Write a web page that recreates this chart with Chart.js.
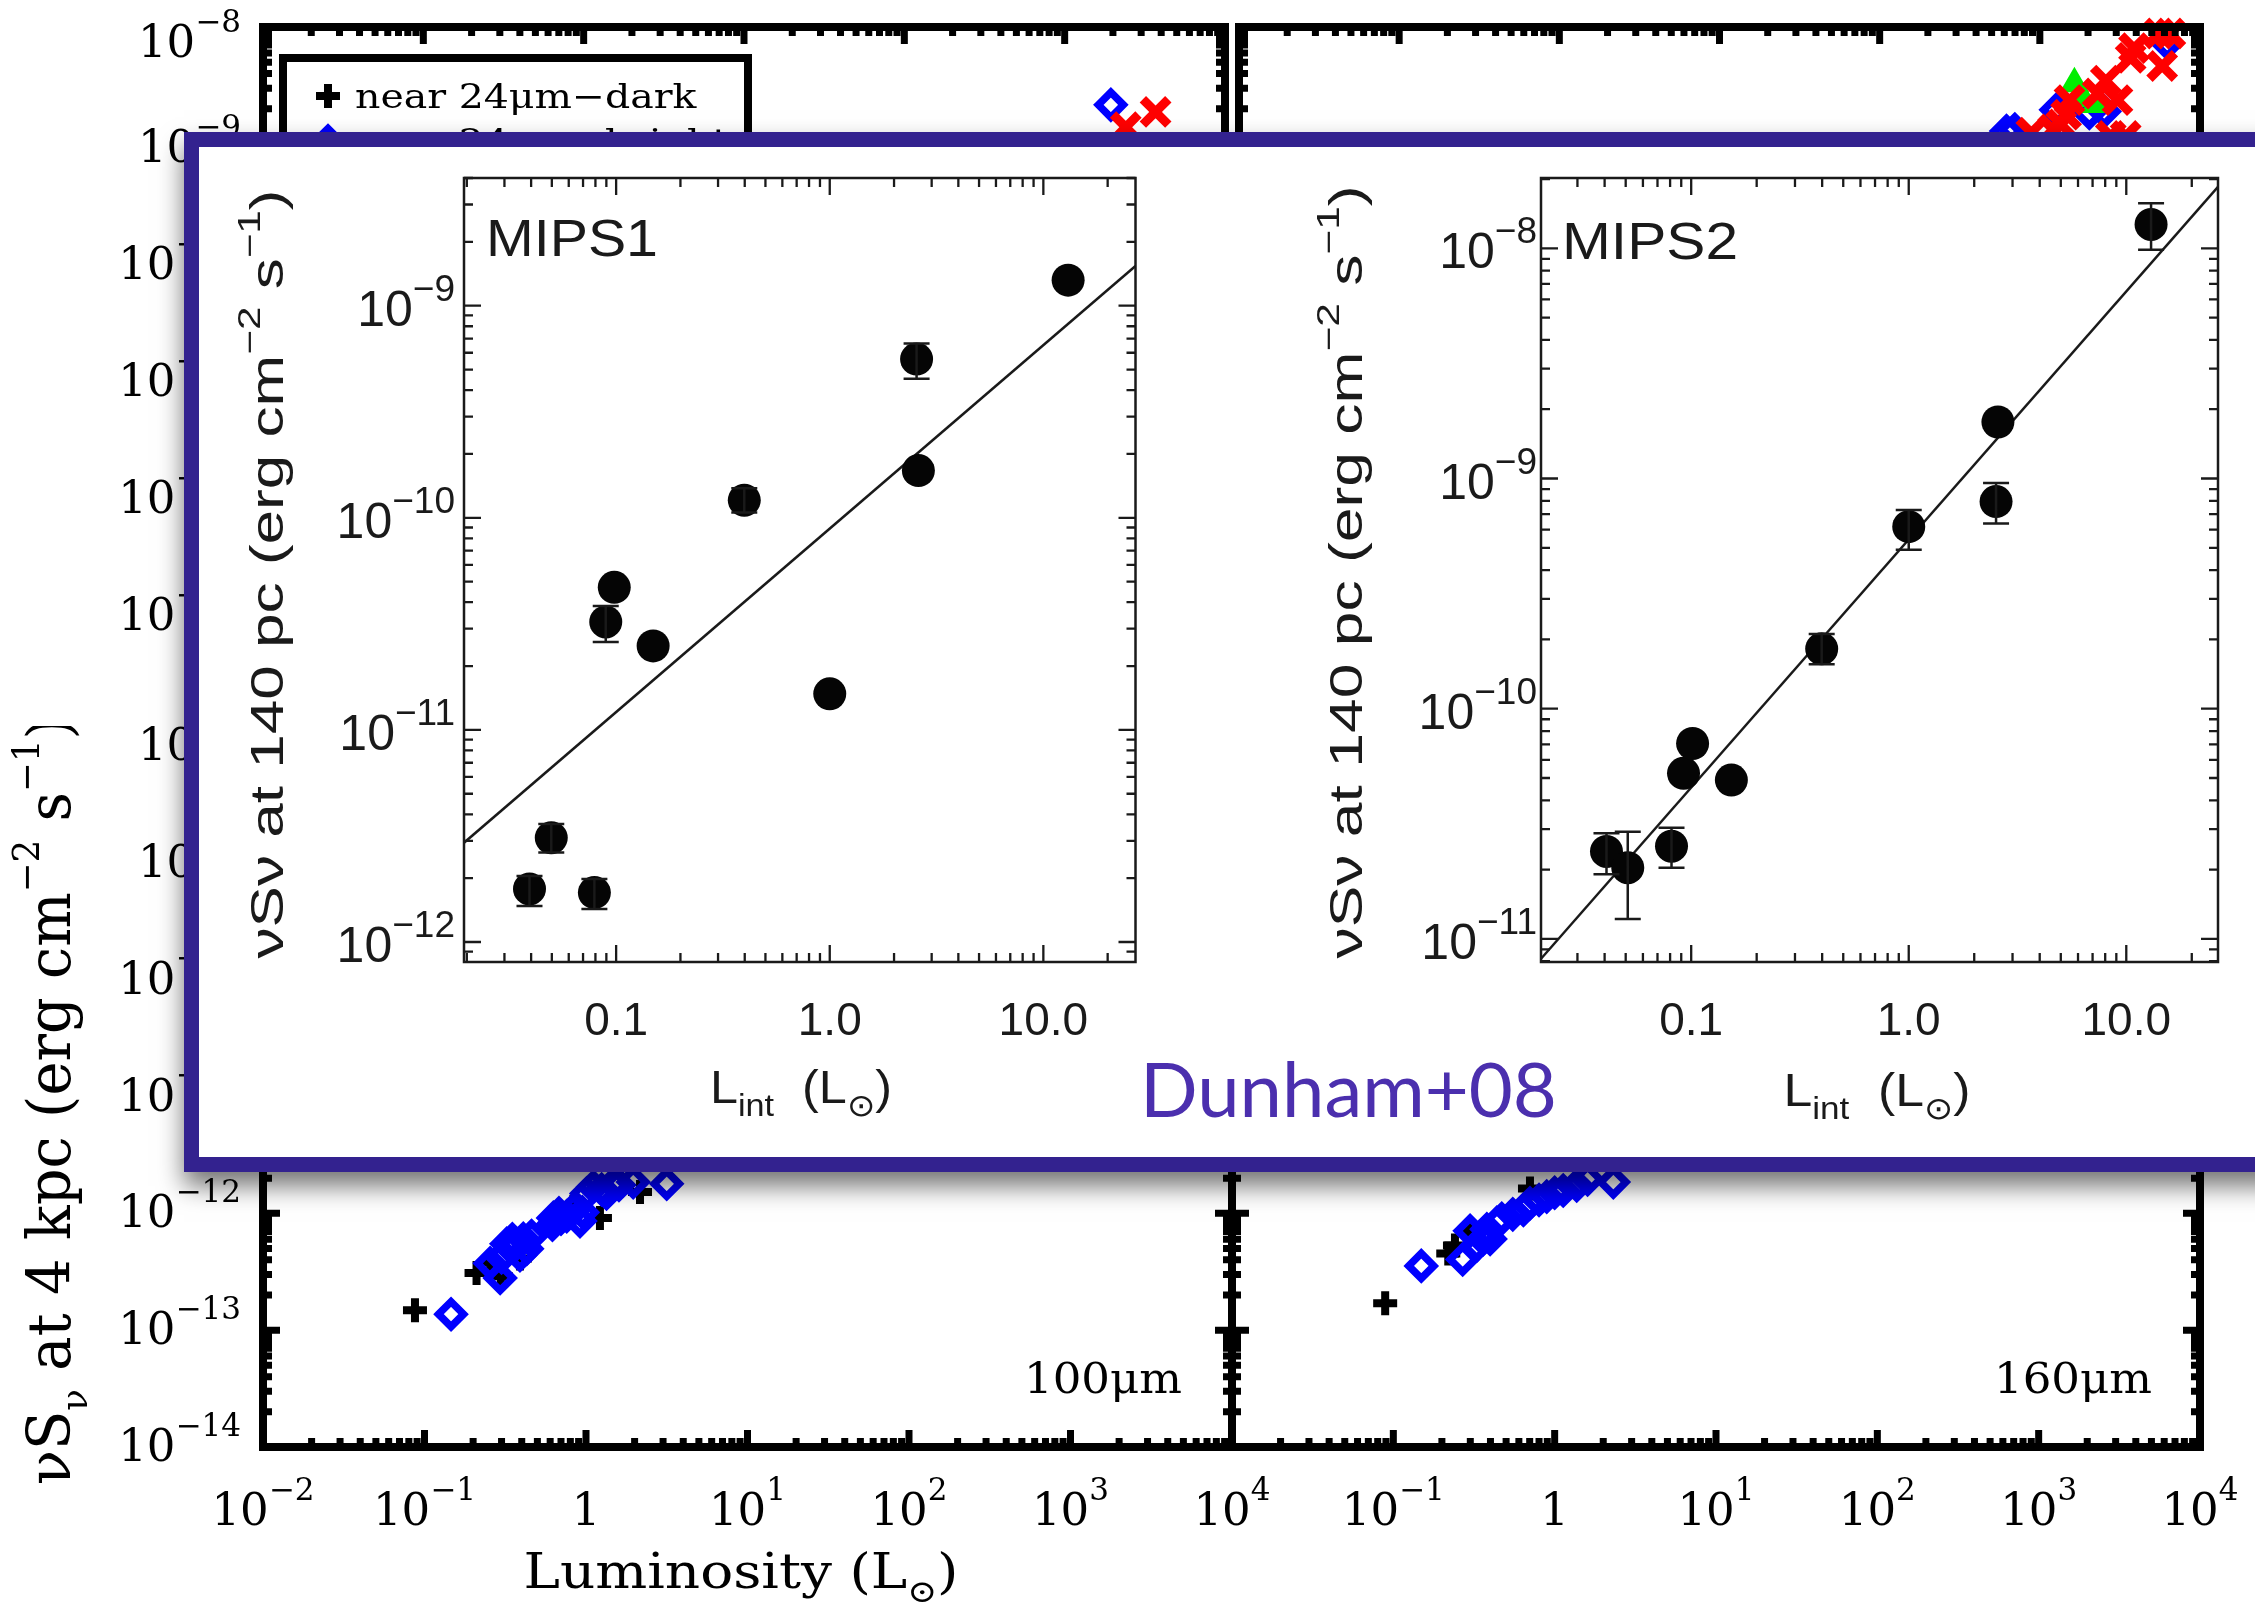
<!DOCTYPE html>
<html>
<head>
<meta charset="utf-8">
<script src="https://cdn.jsdelivr.net/npm/chart.js@4.4.1/dist/chart.umd.min.js"></script>
<style>
  html, body { margin: 0; padding: 0; background: #fff; }
  body { position: relative; width: 2255px; height: 1604px; overflow: hidden; }
  canvas { position: absolute; }
  canvas.soft { filter: blur(0.5px); }
  #inset {
    position: absolute; left: 184px; top: 132px; width: 2200px; height: 1040px;
    box-sizing: border-box; border: 15px solid #33228f; background: #fff; z-index: 5;
    box-shadow: 0 14px 24px rgba(0, 0, 0, 0.55);
  }
  #dunham {
    position: absolute; left: 1140px; top: 1050px; z-index: 7;
    font: 76px Lato, "Open Sans", sans-serif; line-height: 1; color: #4b2fae;
  }
</style>
</head>
<body>
<div id="inset"></div>
<div id="dunham">Dunham+08</div>
<script>
// Background figure: nuS_nu at 4 kpc vs luminosity, four panels (only 100um / 160um labelled)
const bgXTicks = [1e-2, 1e-1, 1, 1e1, 1e2, 1e3, 1e4];
const bgYTicks = [1e-14, 1e-13, 1e-12, 1e-11, 1e-10, 1e-9, 1e-8];
const legendLabels = ['near 24\u03bcm\u2212dark', 'near 24\u03bcm\u2212bright'];

// top-left panel
const tlBrightL = [1941];
const tlBrightS = [2.16e-9];
const tlRedL = [3690, 2404];
const tlRedS = [1.88e-9, 1.39e-9];

// top-right panel
const trRedL = [5534, 6531, 3873, 3690, 5806, 2582, 3053, 2296, 1532, 1459, 1358, 1208, 885, 2773, 3436];
const trRedS = [8.8e-9, 8.8e-9, 6.6e-9, 5.45e-9, 4.64e-9, 3.48e-9, 2.37e-9, 2.7e-9, 2.37e-9, 1.78e-9, 1.47e-9, 1.33e-9, 1.25e-9, 1.17e-9, 1.17e-9];
const trBrightL = [6237, 619, 698, 1265, 2037, 2524];
const trBrightS = [7.26e-9, 1.29e-9, 1.33e-9, 1.96e-9, 1.84e-9, 1.9e-9];
const trGreenL = [1644, 1853, 2239];
const trGreenS = [3.27e-9, 2.45e-9, 2.18e-9];

// 100um panel
const blDarkL = [0.0873, 0.21, 0.255, 0.297, 0.39, 1.22, 0.835, 2.16];
const blDarkS = [1.48e-13, 3.08e-13, 3.81e-13, 2.89e-13, 4.11e-13, 9.14e-13, 1.14e-12, 1.52e-12];
const blBrightL = [0.146, 0.294, 0.255, 0.323, 0.409, 0.43, 0.39, 0.628, 0.76, 0.918, 0.835, 1.01, 1.34, 1.48, 1.11, 3.16, 1.96, 0.30, 0.36, 0.46, 0.35, 0.62, 0.70, 0.95, 0.68, 1.25, 1.6];
const blBrightS = [1.37e-13, 2.8e-13, 3.73e-13, 5.48e-13, 6.04e-13, 4.98e-13, 4.38e-13, 9.14e-13, 9.44e-13, 8.58e-13, 1.07e-12, 1.48e-12, 1.48e-12, 1.79e-12, 1.68e-12, 1.79e-12, 1.85e-12, 4.2e-13, 5.2e-13, 6.4e-13, 6.0e-13, 8.0e-13, 9.0e-13, 1.02e-12, 1.0e-12, 1.6e-12, 1.75e-12];

// 160um panel
const brDarkL = [0.089, 0.219, 0.241, 0.299, 0.703];
const brDarkS = [1.70e-13, 4.53e-13, 5.31e-13, 7.08e-13, 1.63e-12];
const brBrightL = [0.149, 0.269, 0.329, 0.299, 0.38, 0.438, 0.398, 0.64, 0.703, 0.893, 1.13, 1.37, 2.31, 0.36, 0.47, 0.55, 0.8, 1.0, 1.6];
const brBrightS = [3.55e-13, 4.03e-13, 5.31e-13, 7.08e-13, 7.31e-13, 8.3e-13, 6.04e-13, 1.07e-12, 1.22e-12, 1.39e-12, 1.57e-12, 1.73e-12, 1.85e-12, 6.0e-13, 9.0e-13, 9.8e-13, 1.3e-12, 1.5e-12, 1.95e-12];

// Inset (Dunham+08): nuSnu at 140 pc vs L_int
const mipsXTicks = [0.1, 1, 10];
const mips1YTicks = [1e-12, 1e-11, 1e-10, 1e-9];
const mips2YTicks = [1e-11, 1e-10, 1e-9, 1e-8];

const mips1L = [0.0393, 0.0497, 0.0791, 0.0894, 0.098, 0.149, 0.398, 1.0, 2.55, 2.6, 13.06];
const mips1S = [1.78e-12, 3.1e-12, 1.71e-12, 3.23e-11, 4.7e-11, 2.49e-11, 1.21e-10, 1.48e-11, 5.6e-10, 1.67e-10, 1.32e-9];
const mips1Hi = [2.05e-12, 3.6e-12, 1.98e-12, 3.84e-11, 4.7e-11, 2.49e-11, 1.38e-10, 1.48e-11, 6.64e-10, 1.67e-10, 1.32e-9];
const mips1Lo = [1.48e-12, 2.64e-12, 1.43e-12, 2.6e-11, 4.7e-11, 2.49e-11, 1.06e-10, 1.48e-11, 4.53e-10, 1.67e-10, 1.32e-9];
const mips1FitL = [0.0194, 27.0];
const mips1FitS = [2.94e-12, 1.54e-9];

const mips2L = [0.0408, 0.0511, 0.0812, 0.0922, 0.1015, 0.153, 0.398, 1.0, 2.57, 2.52, 13.0];
const mips2S = [2.4e-11, 2.04e-11, 2.53e-11, 5.24e-11, 7.06e-11, 4.9e-11, 1.82e-10, 6.18e-10, 1.76e-9, 7.94e-10, 1.27e-8];
const mips2Hi = [2.88e-11, 2.92e-11, 3.04e-11, 5.24e-11, 7.06e-11, 4.9e-11, 2.11e-10, 7.3e-10, 1.76e-9, 9.56e-10, 1.57e-8];
const mips2Lo = [1.91e-11, 1.22e-11, 2.04e-11, 5.24e-11, 7.06e-11, 4.9e-11, 1.56e-10, 4.9e-10, 1.76e-9, 6.38e-10, 9.86e-9];
const mips2FitL = [0.0204, 26.4];
const mips2FitS = [8.2e-12, 1.85e-8];

// marker styles
const DARK = { style: 'cross', r: 12, bw: 8, color: '#000', fill: '#000' };
const BRIGHT = { style: 'rectRot', r: 12.5, bw: 7.5, color: '#0000ff', fill: 'rgba(0,0,0,0)' };
const RED = { style: 'crossRot', r: 18, bw: 9, color: '#ff0000', fill: '#ff0000' };
const GREEN = { style: 'triangle', r: 14, bw: 3, color: '#00ee00', fill: '#00ee00' };

const SERIF = '"DejaVu Serif", serif';
const SANS = '"Liberation Sans", Arial, sans-serif';

function pts(xs, ys) {
  return xs.map((x, i) => ({ x: x, y: ys[i] }));
}

function markers(label, xs, ys, st, order) {
  return {
    label: label, data: pts(xs, ys), order: order, clip: false, showLine: false,
    pointStyle: st.style, pointRadius: st.r, pointHoverRadius: st.r,
    pointBorderWidth: st.bw, pointBorderColor: st.color, pointBackgroundColor: st.fill
  };
}

function pow10(v) {
  const e = Math.round(Math.log10(v));
  if (e === 0) return [{ t: '1' }];
  return [{ t: '10' }, { t: (e < 0 ? '\u2212' : '') + Math.abs(e), k: 'sup' }];
}

function fixed(v) {
  return [{ t: v.toFixed(1) }];
}

// text with super/subscripts, optional rotation and horizontal fit
function rich(ctx, segs, x, y, o) {
  const sz = o.size, ssz = sz * (o.supScale || 0.68);
  const fnt = (s) => s + 'px ' + o.family;
  let total = 0;
  const ws = segs.map((sg) => {
    ctx.font = fnt(sg.k ? ssz : sz);
    const w = ctx.measureText(sg.t).width;
    total += w;
    return w;
  });
  const sx = o.width ? o.width / total : (o.sx || 1);
  ctx.save();
  ctx.translate(x, y);
  if (o.rot) ctx.rotate(o.rot);
  ctx.scale(sx, 1);
  ctx.fillStyle = o.color || '#000';
  ctx.textAlign = 'left';
  ctx.textBaseline = 'alphabetic';
  let cx = o.align === 'center' ? -total / 2 : (o.align === 'right' ? -total : 0);
  segs.forEach((sg, i) => {
    ctx.font = fnt(sg.k ? ssz : sz);
    let dy = 0;
    if (sg.k === 'sup') dy = -sz * (o.supRaise || 0.5);
    if (sg.k === 'sub') dy = sz * (o.subDrop || 0.28);
    ctx.fillText(sg.t, cx, dy);
    cx += ws[i];
  });
  ctx.restore();
}

function logTicks(min, max) {
  const out = [];
  for (let e = Math.floor(Math.log10(min)); e <= Math.ceil(Math.log10(max)); e++) {
    for (let k = 1; k <= 9; k++) {
      const v = k * Math.pow(10, e);
      if (v >= min * 0.999 && v <= max * 1.001) out.push({ v: v, major: k === 1 });
    }
  }
  return out;
}

function legendMark(ctx, st, x, y) {
  ctx.save();
  ctx.strokeStyle = st.color;
  ctx.fillStyle = st.fill;
  ctx.lineWidth = st.bw;
  ctx.beginPath();
  if (st.style === 'cross') {
    ctx.moveTo(x - st.r, y); ctx.lineTo(x + st.r, y);
    ctx.moveTo(x, y - st.r); ctx.lineTo(x, y + st.r);
  } else {
    ctx.moveTo(x - st.r, y); ctx.lineTo(x, y - st.r);
    ctx.lineTo(x + st.r, y); ctx.lineTo(x, y + st.r); ctx.closePath();
  }
  ctx.stroke();
  ctx.restore();
}

const framePlugin = {
  id: 'frame',
  afterDatasetsDraw(chart, args, o) {
    const { ctx, chartArea: a, scales: { x, y } } = chart;
    const ox = chart.canvas.offsetLeft, oy = chart.canvas.offsetTop;
    ctx.save();
    ctx.strokeStyle = o.color;
    ctx.lineCap = 'butt';

    // error bars
    chart.data.datasets.forEach((ds) => {
      if (!ds.errLo) return;
      ctx.lineWidth = o.errWidth;
      ctx.beginPath();
      ds.data.forEach((p, i) => {
        const lo = ds.errLo[i], hi = ds.errHi[i];
        if (lo === hi) return;
        const px = x.getPixelForValue(p.x);
        const y0 = y.getPixelForValue(lo), y1 = y.getPixelForValue(hi);
        ctx.moveTo(px, y0); ctx.lineTo(px, y1);
        ctx.moveTo(px - o.cap, y0); ctx.lineTo(px + o.cap, y0);
        ctx.moveTo(px - o.cap, y1); ctx.lineTo(px + o.cap, y1);
      });
      ctx.stroke();
    });

    // inward ticks on all four sides
    ctx.lineWidth = o.tick;
    ctx.beginPath();
    logTicks(x.min, x.max).forEach((t) => {
      const p = x.getPixelForValue(t.v), L = t.major ? o.major : o.minor;
      ctx.moveTo(p, a.bottom); ctx.lineTo(p, a.bottom - L);
      ctx.moveTo(p, a.top); ctx.lineTo(p, a.top + L);
    });
    logTicks(y.min, y.max).forEach((t) => {
      const p = y.getPixelForValue(t.v), L = t.major ? o.major : o.minor;
      ctx.moveTo(a.left, p); ctx.lineTo(a.left + L, p);
      ctx.moveTo(a.right, p); ctx.lineTo(a.right - L, p);
    });
    ctx.stroke();
    ctx.lineWidth = o.box;
    ctx.strokeRect(a.left, a.top, a.right - a.left, a.bottom - a.top);

    // tick labels
    if (o.xLab) {
      x.ticks.forEach((t) => {
        rich(ctx, o.xLab(t.value), x.getPixelForValue(t.value), a.bottom + o.xBase,
          Object.assign({}, o.font, { align: 'center' }));
      });
    }
    if (o.yLab) {
      y.ticks.forEach((t) => {
        if (o.ySkip && o.ySkip.indexOf(t.value) >= 0) return;
        let shift = o.yShift;
        if (o.yTopShift && t.value === y.max) shift += o.yTopShift;
        rich(ctx, o.yLab(t.value), a.left - o.yGap, y.getPixelForValue(t.value) + shift,
          Object.assign({}, o.yFont || o.font, { align: 'right' }));
      });
    }

    // free texts, given in page coordinates
    (o.texts || []).forEach((tx) => rich(ctx, tx.segs, tx.x - ox, tx.y - oy, tx.font));

    // legend box
    if (o.legend) {
      const L = o.legend;
      ctx.lineWidth = 8;
      ctx.strokeStyle = '#000';
      ctx.strokeRect(L.x - ox, L.y - oy, L.w, L.h);
      L.items.forEach((it, i) => {
        const cy = L.y + L.first + i * L.step - oy;
        legendMark(ctx, it.st, L.x + 45 - ox, cy);
        rich(ctx, [{ t: it.label }], L.x + 72 - ox, cy + 12, { family: SERIF, size: 34, sx: 1.16 });
      });
    }
    ctx.restore();
  }
};

function panel(box, pad, datasets, xr, yr, frame, z, cls) {
  const c = document.createElement('canvas');
  const W = box[2] - box[0] + pad[0] + pad[1];
  const H = box[3] - box[1] + pad[2] + pad[3];
  c.width = W; c.height = H;
  c.style.left = (box[0] - pad[0]) + 'px';
  c.style.top = (box[1] - pad[2]) + 'px';
  c.style.width = W + 'px';
  c.style.height = H + 'px';
  c.style.zIndex = z;
  if (cls) c.className = cls;
  document.body.appendChild(c);
  const axis = (r) => ({
    type: 'logarithmic', min: r[0], max: r[1],
    grid: { display: false, drawTicks: false }, border: { display: false },
    ticks: { display: false },
    afterBuildTicks: (s) => { s.ticks = r[2].map((v) => ({ value: v })); }
  });
  return new Chart(c, {
    type: 'scatter',
    data: { datasets: datasets },
    options: {
      responsive: false, animation: false, devicePixelRatio: 1, events: [],
      layout: { padding: { left: pad[0], right: pad[1], top: pad[2], bottom: pad[3] } },
      plugins: { legend: { display: false }, tooltip: { enabled: false }, frame: frame },
      scales: { x: axis(xr), y: axis(yr) }
    },
    plugins: [framePlugin]
  });
}

// ---------- background panels ----------
const bgX = [1e-2, 1e4, bgXTicks];
const bgY = [1e-14, 1e-8, bgYTicks];
const bgFont = { family: SERIF, size: 45, supScale: 0.69, supRaise: 0.56 };
const bgFrame = { color: '#000', box: 8, tick: 7, major: 17, minor: 9, font: bgFont };

panel([263, 20, 1232, 736], [263, 20, 20, 20], [
  markers('near 24\u03bcm-bright', tlBrightL, tlBrightS, BRIGHT, 2),
  markers('red', tlRedL, tlRedS, RED, 1)
], bgX, bgY, Object.assign({}, bgFrame, {
  yLab: pow10, yGap: 22, yShift: 18, yTopShift: 12, ySkip: [1e-14],
  legend: { x: 283, y: 58, w: 465, h: 200, first: 38, step: 45,
    items: [{ label: legendLabels[0], st: DARK }, { label: legendLabels[1], st: BRIGHT }] }
}), 1);

panel([1232, 20, 2200, 736], [20, 55, 20, 20], [
  markers('red', trRedL, trRedS, RED, 1),
  markers('green', trGreenL, trGreenS, GREEN, 2),
  markers('near 24\u03bcm-bright', trBrightL, trBrightS, BRIGHT, 3)
], bgX, bgY, bgFrame, 1);

panel([263, 736, 1232, 1447], [263, 70, 10, 157], [
  markers('near 24\u03bcm-bright', blBrightL, blBrightS, BRIGHT, 1),
  markers('near 24\u03bcm-dark', blDarkL, blDarkS, DARK, 2)
], bgX, bgY, Object.assign({}, bgFrame, {
  xLab: pow10, xBase: 78, yLab: pow10, yGap: 22, yShift: 14,
  texts: [
    { segs: [{ t: 'Luminosity (L' }, { t: '\u2299', k: 'sub' }, { t: ')' }], x: 741, y: 1588,
      font: { family: SERIF, size: 48, align: 'center', width: 435, supScale: 0.65, subDrop: 0.3 } },
    { segs: [{ t: '\u03bdS' }, { t: '\u03bd', k: 'sub' }, { t: ' at 4 kpc (erg cm' }, { t: '\u22122', k: 'sup' },
      { t: ' s' }, { t: '\u22121', k: 'sup' }, { t: ')' }], x: 70, y: 1101,
      font: { family: SERIF, size: 60, rot: -Math.PI / 2, align: 'center', width: 768, supScale: 0.62, supRaise: 0.52 } },
    { segs: [{ t: '100\u03bcm' }], x: 1024, y: 1393, font: { family: SERIF, size: 42, width: 158 } }
  ]
}), 2);

panel([1232, 736, 2200, 1447], [20, 55, 10, 157], [
  markers('near 24\u03bcm-bright', brBrightL, brBrightS, BRIGHT, 1),
  markers('near 24\u03bcm-dark', brDarkL, brDarkS, DARK, 2)
], bgX, bgY, Object.assign({}, bgFrame, {
  xLab: (v) => (v === 1e-2 ? [] : pow10(v)), xBase: 78,
  texts: [{ segs: [{ t: '160\u03bcm' }], x: 1994, y: 1393, font: { family: SERIF, size: 42, width: 158 } }]
}), 1);

// ---------- inset panels ----------
function dots(xs, ys, lo, hi) {
  return {
    label: 'sources', data: pts(xs, ys), errLo: lo, errHi: hi, order: 1, showLine: false,
    pointStyle: 'circle', pointRadius: 16.5, pointHoverRadius: 16.5, pointBorderWidth: 0,
    pointBackgroundColor: '#050505'
  };
}

function fit(xs, ys) {
  return {
    label: 'fit', data: pts(xs, ys), order: 2, showLine: true, pointRadius: 0,
    borderColor: '#1a1a1a', borderWidth: 2.5
  };
}

const inFont = { family: SANS, size: 46, supScale: 0.72, supRaise: 0.5, color: '#1a1a1a' };
const inYFont = { family: SANS, size: 50, supScale: 0.74, supRaise: 0.5, color: '#1a1a1a' };
const inFrame = { color: '#1a1a1a', box: 2.5, tick: 2.3, major: 17, minor: 9, errWidth: 2.5, cap: 13,
  font: inFont, yFont: inYFont, xLab: fixed, xBase: 73, yLab: pow10, yShift: 20 };
const inYTitle = [{ t: '\u03bdS\u03bd at 140 pc (erg cm' }, { t: '\u22122', k: 'sup' }, { t: ' s' },
  { t: '\u22121', k: 'sup' }, { t: ')' }];
const inXTitle = [{ t: 'L' }, { t: 'int', k: 'sub' }, { t: '  (L' }, { t: '\u2299', k: 'sub' }, { t: ')' }];

panel([464, 178, 1142, 962], [260, 10, 20, 170], [
  dots(mips1L, mips1S, mips1Lo, mips1Hi),
  fit(mips1FitL, mips1FitS)
], [0.0194, 27.0, mipsXTicks], [8.05e-13, 4.0e-9, mips1YTicks], Object.assign({}, inFrame, {
  yGap: 9,
  texts: [
    { segs: [{ t: 'MIPS1' }], x: 486, y: 256, font: { family: SANS, size: 52, width: 172, color: '#1a1a1a' } },
    { segs: inYTitle, x: 283, y: 574, font: Object.assign({}, inFont, { rot: -Math.PI / 2, align: 'center', width: 769, supScale: 0.68 }) },
    { segs: inXTitle, x: 801, y: 1103, font: Object.assign({}, inFont, { align: 'center', width: 182, supScale: 0.68 }) }
  ]
}), 6, 'soft');

panel([1541, 178, 2218, 962], [230, 20, 20, 170], [
  dots(mips2L, mips2S, mips2Lo, mips2Hi),
  fit(mips2FitL, mips2FitS)
], [0.0204, 26.4, mipsXTicks], [7.94e-12, 2.02e-8, mips2YTicks], Object.assign({}, inFrame, {
  yGap: 4,
  texts: [
    { segs: [{ t: 'MIPS2' }], x: 1562, y: 259, font: { family: SANS, size: 52, width: 176, color: '#1a1a1a' } },
    { segs: inYTitle, x: 1362, y: 572, font: Object.assign({}, inFont, { rot: -Math.PI / 2, align: 'center', width: 773, supScale: 0.68 }) },
    { segs: inXTitle, x: 1877, y: 1106, font: Object.assign({}, inFont, { align: 'center', width: 187, supScale: 0.68 }) }
  ]
}), 6, 'soft');
</script>
</body>
</html>
